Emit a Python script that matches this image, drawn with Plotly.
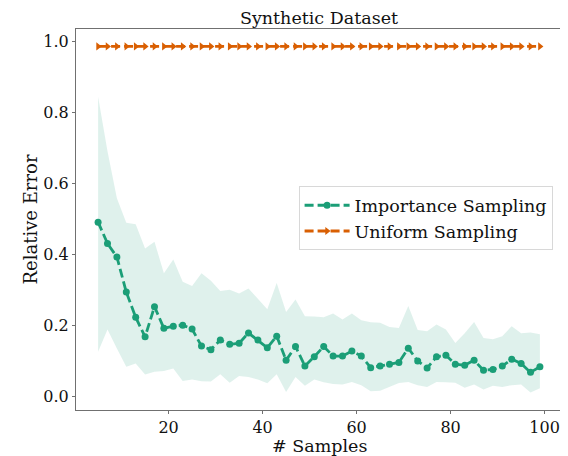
import plotly.graph_objects as go

samples = list(range(5, 100, 2))
importance_mean = [0.490, 0.430, 0.392, 0.293, 0.222, 0.167, 0.252, 0.191, 0.197, 0.200,
                   0.189, 0.141, 0.131, 0.158, 0.146, 0.149, 0.178, 0.158, 0.136, 0.169,
                   0.101, 0.140, 0.085, 0.111, 0.140, 0.113, 0.113, 0.127, 0.113, 0.080,
                   0.085, 0.090, 0.095, 0.135, 0.099, 0.079, 0.111, 0.115, 0.090, 0.087,
                   0.101, 0.073, 0.075, 0.085, 0.104, 0.092, 0.067, 0.083]
importance_upper = [0.843, 0.690, 0.557, 0.488, 0.484, 0.416, 0.435, 0.346, 0.385, 0.322,
                    0.310, 0.346, 0.325, 0.296, 0.300, 0.289, 0.303, 0.275, 0.245, 0.319,
                    0.237, 0.272, 0.225, 0.224, 0.222, 0.233, 0.216, 0.233, 0.214, 0.208,
                    0.207, 0.195, 0.192, 0.254, 0.186, 0.183, 0.202, 0.188, 0.150, 0.177,
                    0.209, 0.164, 0.160, 0.169, 0.197, 0.177, 0.179, 0.174]
importance_lower = [0.125, 0.188, 0.134, 0.083, 0.092, 0.061, 0.069, 0.071, 0.078, 0.043,
                    0.047, 0.042, 0.041, 0.062, 0.038, 0.057, 0.054, 0.047, 0.036, 0.062,
                    0.012, 0.054, 0.029, 0.047, 0.039, 0.034, 0.033, 0.040, 0.031, 0.014,
                    0.015, 0.026, 0.037, 0.040, 0.031, 0.026, 0.040, 0.039, 0.038, 0.024,
                    0.033, 0.019, 0.029, 0.026, 0.031, 0.033, 0.010, 0.022]
uniform_mean = [0.985] * len(samples)

x_ticks = [20, 40, 60, 80, 100]
y_ticks = [0.0, 0.2, 0.4, 0.6, 0.8, 1.0]

GREEN = "#1b9e77"
ORANGE = "#d95f02"
FONT = "DejaVu Serif"

fig = go.Figure()
fig.add_trace(go.Scatter(x=samples, y=importance_lower, mode="lines",
                         line=dict(width=0), showlegend=False, hoverinfo="skip"))
fig.add_trace(go.Scatter(x=samples, y=importance_upper, mode="lines",
                         line=dict(width=0), fill="tonexty",
                         fillcolor="rgba(27,158,119,0.14)", showlegend=False, hoverinfo="skip"))
fig.add_trace(go.Scatter(x=samples, y=importance_mean, mode="lines+markers",
                         name="Importance Sampling",
                         line=dict(color=GREEN, width=2.8, dash="9px,4px"),
                         marker=dict(color=GREEN, size=7, symbol="circle")))
fig.add_trace(go.Scatter(x=samples, y=uniform_mean, mode="lines+markers",
                         name="Uniform Sampling",
                         line=dict(color=ORANGE, width=2.8, dash="9px,4px"),
                         marker=dict(color=ORANGE, size=7, symbol="triangle-right")))

axis_common = dict(showline=True, mirror=True, linecolor="#707070", linewidth=1.2,
                   ticks="outside", ticklen=3, tickcolor="#707070", showgrid=False,
                   zeroline=False, automargin=False,
                   tickfont=dict(family=FONT, size=16, color="#111"))

# page body adds an 8px offset; figure is sized to fit the 568x456 window
fig.update_layout(
    width=560, height=448,
    margin=dict(l=68, r=6, t=21, b=46),
    paper_bgcolor="white", plot_bgcolor="white",
    font=dict(family=FONT, color="#111"),
    title=dict(text="Synthetic Dataset", x=(319 - 8) / 560, xanchor="center",
               y=1 - 10 / 448, yanchor="middle", font=dict(family=FONT, size=17.5, color="#111")),
    xaxis=dict(range=[0.3, 103.7], tickvals=x_ticks, **axis_common),
    yaxis=dict(range=[-0.039, 1.034], tickvals=y_ticks, tickformat=".1f",
               title=dict(text="Relative Error", font=dict(family=FONT, size=18), standoff=0),
               **axis_common),
    legend=dict(x=0.458, y=0.587, xanchor="left", yanchor="top",
                traceorder="normal",
                bgcolor="rgba(255,255,255,0.85)", bordercolor="#d8d8d8", borderwidth=1,
                font=dict(family=FONT, size=17.5, color="#111"), itemwidth=45,
                tracegroupgap=2),
)
fig.add_annotation(text="# Samples", xref="paper", yref="paper", x=0.5, y=-0.0955,
                   xanchor="center", yanchor="middle", showarrow=False,
                   font=dict(family=FONT, size=17.5, color="#111"))

fig.write_html("out.html")
